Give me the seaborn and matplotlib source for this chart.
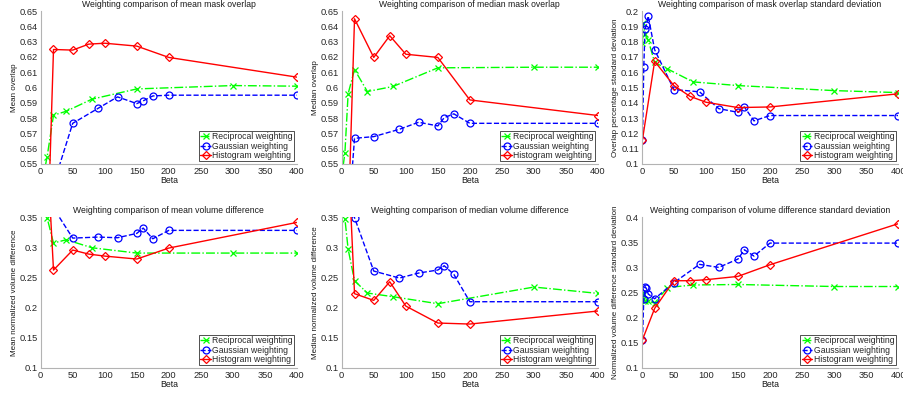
import matplotlib
matplotlib.use("Agg")
import matplotlib.pyplot as plt
from matplotlib.ticker import FuncFormatter, MultipleLocator
import pandas as pd
import seaborn as sns

# beta values sampled by each weighting scheme
beta_recip = [1, 2, 5, 10, 20, 40, 80, 150, 300, 400]
beta_gauss = [1, 3, 5, 7, 10, 20, 50, 90, 120, 150, 160, 175, 200, 400]
beta_hist = [1, 20, 50, 75, 100, 150, 200, 400]

mean_overlap_recip = [0.52, 0.53, 0.544, 0.5546, 0.5819, 0.5845, 0.5924, 0.5991, 0.6013, 0.6009]
mean_overlap_gauss = [0.40, 0.48, 0.50, 0.51, 0.52, 0.5367, 0.5766, 0.5865, 0.5939, 0.5895, 0.5913, 0.5945, 0.595, 0.595]
mean_overlap_hist = [0.367, 0.6249, 0.6245, 0.6284, 0.629, 0.6271, 0.6197, 0.6068]

median_overlap_recip = [0.52, 0.548, 0.5574, 0.5959, 0.6118, 0.5974, 0.6007, 0.6129, 0.6133, 0.6133]
median_overlap_gauss = [0.40, 0.45, 0.48, 0.50, 0.511, 0.5668, 0.5679, 0.5727, 0.5773, 0.5749, 0.5803, 0.5828, 0.5766, 0.5766]
median_overlap_hist = [0.388, 0.645, 0.6197, 0.6339, 0.6218, 0.6197, 0.5919, 0.5817]

std_overlap_recip = [0.179, 0.192, 0.185, 0.181, 0.1664, 0.1622, 0.1537, 0.1513, 0.148, 0.1467]
std_overlap_gauss = [0.116, 0.1635, 0.1884, 0.1906, 0.1967, 0.1747, 0.1487, 0.1472, 0.1362, 0.1338, 0.1373, 0.1282, 0.1317, 0.1317]
std_overlap_hist = [0.116, 0.1672, 0.1513, 0.1443, 0.1404, 0.1369, 0.1373, 0.1459]

mean_vol_recip = [0.39, 0.38, 0.37, 0.349, 0.307, 0.3125, 0.2992, 0.2904, 0.2904, 0.2904]
mean_vol_gauss = [0.45, 0.40, 0.39, 0.39, 0.38, 0.365, 0.3152, 0.3169, 0.3158, 0.323, 0.3318, 0.3141, 0.328, 0.328]
mean_vol_hist = [0.644, 0.2622, 0.2954, 0.2887, 0.2854, 0.2805, 0.2987, 0.3412]

median_vol_recip = [0.39, 0.37, 0.3472, 0.297, 0.2446, 0.2242, 0.2181, 0.2065, 0.2341, 0.2236]
median_vol_gauss = [0.45, 0.42, 0.40, 0.38, 0.37, 0.349, 0.2606, 0.249, 0.2573, 0.2623, 0.2694, 0.2551, 0.2098, 0.2098]
median_vol_hist = [0.668, 0.2231, 0.212, 0.2429, 0.2026, 0.1745, 0.1728, 0.1944]

std_vol_recip = [0.25, 0.245, 0.233, 0.233, 0.229, 0.260, 0.265, 0.266, 0.262, 0.262]
std_vol_gauss = [0.1563, 0.2371, 0.2616, 0.2583, 0.247, 0.2377, 0.2695, 0.306, 0.30, 0.3166, 0.3351, 0.3225, 0.3483, 0.3483]
std_vol_hist = [0.1563, 0.2185, 0.2735, 0.2735, 0.2755, 0.2821, 0.3053, 0.3868]

panels = [
    ("Weighting comparison of mean mask overlap", "Mean overlap",
     (mean_overlap_recip, mean_overlap_gauss, mean_overlap_hist), (0.55, 0.65), 0.01),
    ("Weighting comparison of median mask overlap", "Median overlap",
     (median_overlap_recip, median_overlap_gauss, median_overlap_hist), (0.55, 0.65), 0.01),
    ("Weighting comparison of mask overlap standard deviation", "Overlap percentage standard deviation",
     (std_overlap_recip, std_overlap_gauss, std_overlap_hist), (0.1, 0.2), 0.01),
    ("Weighting comparison of mean volume difference", "Mean normalized volume difference",
     (mean_vol_recip, mean_vol_gauss, mean_vol_hist), (0.1, 0.35), 0.05),
    ("Weighting comparison of median volume difference", "Median normalized volume difference",
     (median_vol_recip, median_vol_gauss, median_vol_hist), (0.1, 0.35), 0.05),
    ("Weighting comparison of volume difference standard deviation", "Normalized volume difference standard deviation",
     (std_vol_recip, std_vol_gauss, std_vol_hist), (0.1, 0.4), 0.05),
]

series_style = [
    ("Reciprocal weighting", beta_recip, "#00ff00", "x", "-."),
    ("Gaussian weighting", beta_gauss, "#0000ff", "o", "--"),
    ("Histogram weighting", beta_hist, "#ff0000", "D", "-"),
]

sns.set_theme(style="white")
plt.rcParams["font.family"] = ["Liberation Sans", "DejaVu Sans"]
plt.rcParams["axes.linewidth"] = 0.8

fig = plt.figure(figsize=(9.04, 3.94), dpi=100)
lefts = [0.045, 0.378, 0.710]
rows = [(0.5838, 0.388), (0.066, 0.383)]

for i, (title, ylabel, values, ylim, ystep) in enumerate(panels):
    bottom, height = rows[i // 3]
    ax = fig.add_axes([lefts[i % 3], bottom, 0.2835, height])
    for (name, beta, color, marker, ls), vals in zip(series_style, values):
        df = pd.DataFrame({"Beta": beta, "value": vals})
        sns.lineplot(data=df, x="Beta", y="value", ax=ax, color=color, marker=marker,
                     linestyle=ls, linewidth=1.0, markersize=5 if marker != "D" else 4.5,
                     markerfacecolor="none", markeredgecolor=color, markeredgewidth=0.9,
                     label=name)
    ax.set_xlim(0, 400)
    ax.set_ylim(*ylim)
    ax.xaxis.set_major_locator(MultipleLocator(50))
    ax.yaxis.set_major_locator(MultipleLocator(ystep))
    ax.yaxis.set_major_formatter(FuncFormatter(lambda v, p: "%g" % round(v, 4)))
    ax.set_title(title, fontsize=6.2, pad=3, color="0.1")
    ax.set_xlabel("Beta", fontsize=6.3, labelpad=0, color="0.1")
    ax.set_ylabel(ylabel, fontsize=5.8, labelpad=1, color="0.1")
    ax.tick_params(direction="in", length=3, width=0.6, color="0.6",
                   labelsize=6.7, labelcolor="0.15", pad=2)
    for side in ("top", "right"):
        ax.spines[side].set_visible(False)
    for side in ("left", "bottom"):
        ax.spines[side].set_color("0.7")
    leg = ax.legend(loc="lower right", fontsize=6.2, frameon=True, fancybox=False,
                    borderaxespad=0.3, handlelength=1.2, handletextpad=0.2,
                    borderpad=0.15, labelspacing=0.05)
    leg.get_frame().set_edgecolor("black")
    leg.get_frame().set_linewidth(0.6)

fig.savefig("out.png", dpi=100)
